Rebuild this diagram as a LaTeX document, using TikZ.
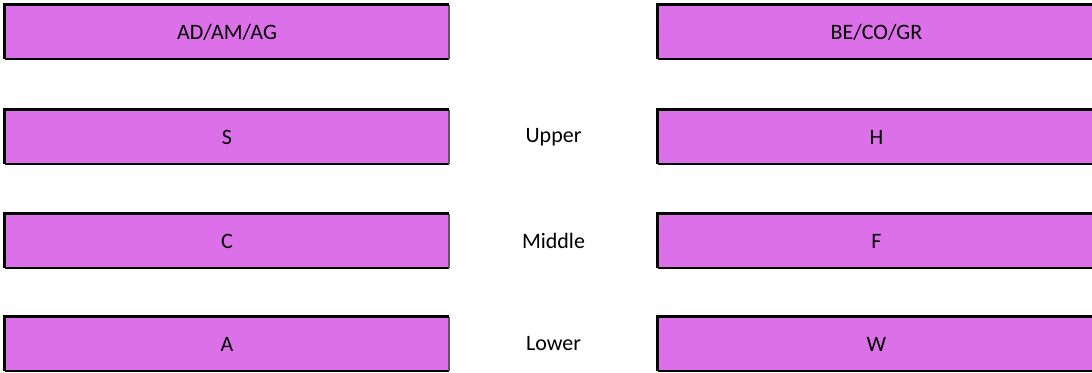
\documentclass[tikz,border=0pt]{standalone}
\usepackage{fontspec}
\setmainfont{Carlito}
\definecolor{boxpink}{RGB}{220,112,232}
\definecolor{edgegray}{RGB}{90,90,90}
\tikzset{
  pbox/.style={fill=boxpink, draw=none, minimum height=54bp, inner sep=0pt, font=\fontsize{22bp}{26bp}\selectfont},
  lbox/.style={pbox, minimum width=444bp},
  rbox/.style={pbox, minimum width=437bp},
  lbl/.style={font=\fontsize{22bp}{26bp}\selectfont, inner sep=0pt},
  edgeA/.style={line width=3bp, black},
  edgeB/.style={line width=2bp, black},
  edgeC/.style={line width=2bp, edgegray}
}
\newcommand{\boxedges}[1]{%
  \draw[edgeB] (#1.south west) -- (#1.south east);
  \draw[edgeC] (#1.north east) -- (#1.south east);
  \draw[edgeA] (#1.south west) -- (#1.north west) -- (#1.north east);
}
\begin{document}
\begin{tikzpicture}[x=1bp,y=-1bp]
\useasboundingbox (0,0) rectangle (1092,372);
\begin{scope}
\clip (0,0) rectangle (1092,372);
\node[lbox] (ad) at (227,32) {AD/AM/AG};
\node[rbox] (be) at (876.5,32) {BE/CO/GR};
\node[lbox] (s) at (227,137) {S};
\node[rbox] (h) at (876.5,137) {H};
\node[lbox] (c) at (227,241) {C};
\node[rbox] (f) at (876.5,241) {F};
\node[lbox] (a) at (227,344) {A};
\node[rbox] (w) at (876.5,344) {W};
\foreach \n in {ad,be,s,h,c,f,a,w} {\boxedges{\n}}
\end{scope}
\node[lbl] (up) at (553.5,137) {Upper};
\node[lbl] (mid) at (553.5,241) {Middle};
\node[lbl] (low) at (553.5,344) {Lower};
\end{tikzpicture}
\end{document}
